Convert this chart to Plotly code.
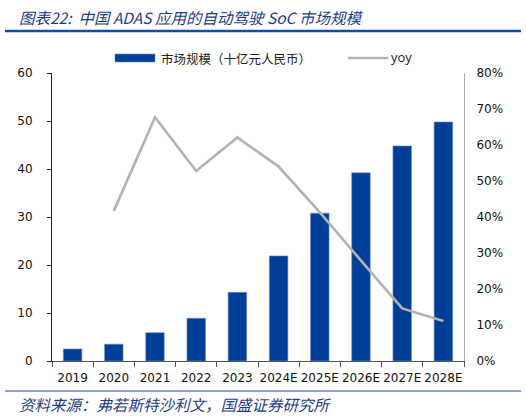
import plotly.graph_objects as go

categories = ["2019", "2020", "2021", "2022", "2023", "2024E", "2025E", "2026E", "2027E", "2028E"]
market_size = [2.5, 3.5, 5.9, 8.9, 14.3, 21.9, 30.8, 39.2, 44.8, 49.8]
yoy = [None, 41.7, 67.7, 52.8, 62.1, 54.0, 41.3, 27.9, 14.6, 11.1]
left_ticks = [0, 10, 20, 30, 40, 50, 60]
right_ticks = [0, 10, 20, 30, 40, 50, 60, 70, 80]
bar_name = "市场规模（十亿元人民币）"
line_name = "yoy"

BLUE = "#003F98"
GRAY = "#B2B2B2"
TXT_BLUE = "#1F3C88"
CJK = "Noto Sans CJK SC"
NUM = "DejaVu Sans"

W, H = 526, 416
L, R, T, B = 52, 464, 73, 361

def px(x):
    return (x - L) / (R - L)

def py(y):
    return (B - y) / (B - T)

fig = go.Figure()
fig.add_trace(go.Bar(
    x=categories, y=market_size, name=bar_name,
    marker=dict(color=BLUE, line=dict(color="#6F8FC8", width=0.6)),
    width=0.45, yaxis="y", showlegend=False,
))
fig.add_trace(go.Scatter(
    x=categories, y=yoy, name=line_name, mode="lines",
    line=dict(color=GRAY, width=2.6), yaxis="y2", connectgaps=False, showlegend=False,
))

fig.update_layout(
    width=W, height=H,
    margin=dict(l=L, r=W - R, t=T, b=H - B, pad=0),
    paper_bgcolor="white", plot_bgcolor="white",
    showlegend=False,
    font=dict(family=NUM, size=12, color="#111111"),
    xaxis=dict(type="category", showline=True, linecolor="#555555", linewidth=1,
               ticks="outside", tickson="boundaries", ticklen=5, tickcolor="#555555",
               tickangle=0,
               tickfont=dict(family=NUM, size=12, color="#111111"),
               showgrid=False, zeroline=False, ticklabelstandoff=6),
    yaxis=dict(range=[0, 60], tickvals=left_ticks, showline=True, linecolor="#222222",
               linewidth=1, ticks="outside", ticklen=4, tickcolor="#222222",
               showgrid=False, zeroline=False, ticklabelstandoff=12,
               tickfont=dict(family=NUM, size=12, color="#111111")),
    yaxis2=dict(range=[0, 80], tickvals=right_ticks, ticktext=[f"{v}%" for v in right_ticks],
                overlaying="y", side="right", showline=True, linecolor="#AAAAAA",
                linewidth=1, ticks="", showgrid=False, zeroline=False,
                ticklabelstandoff=9,
                tickfont=dict(family=NUM, size=12, color="#111111")),
    bargap=0.55,
)

# Legend (drawn manually to match the wide swatches)
fig.add_shape(type="rect", xref="paper", yref="paper", x0=px(115), x1=px(155),
              y0=py(62), y1=py(54), fillcolor=BLUE, line=dict(color="#6F8FC8", width=0.6))
fig.add_annotation(text=bar_name, xref="paper", yref="paper", x=px(159), y=py(58),
                   xanchor="left", yanchor="middle", showarrow=False,
                   font=dict(family=CJK, size=12.5, color="#222222"))
fig.add_shape(type="line", xref="paper", yref="paper", x0=px(348), x1=px(388),
              y0=py(58), y1=py(58), line=dict(color=GRAY, width=2.6))
fig.add_annotation(text=line_name, xref="paper", yref="paper", x=px(389), y=py(57),
                   xanchor="left", yanchor="middle", showarrow=False,
                   font=dict(family="Open Sans", size=13, color="#222222"))

# Title, rule lines, source
fig.add_annotation(text="<i>图表22:  中国 ADAS 应用的自动驾驶 SoC 市场规模</i>",
                   xref="paper", yref="paper", x=px(17), y=py(17),
                   xanchor="left", yanchor="middle", showarrow=False,
                   font=dict(family=CJK, size=15.5, color=TXT_BLUE))
fig.add_shape(type="line", xref="paper", yref="paper", x0=px(5), x1=px(521),
              y0=py(31), y1=py(31), line=dict(color="#1A4A9A", width=2.5))
fig.add_shape(type="line", xref="paper", yref="paper", x0=px(5), x1=px(521),
              y0=py(391), y1=py(391), line=dict(color="#1A4A9A", width=1))
fig.add_annotation(text="<i>资料来源：弗若斯特沙利文，国盛证券研究所</i>",
                   xref="paper", yref="paper", x=px(17), y=py(404),
                   xanchor="left", yanchor="middle", showarrow=False,
                   font=dict(family=CJK, size=15.5, color=TXT_BLUE))

fig.write_html("out.html")
